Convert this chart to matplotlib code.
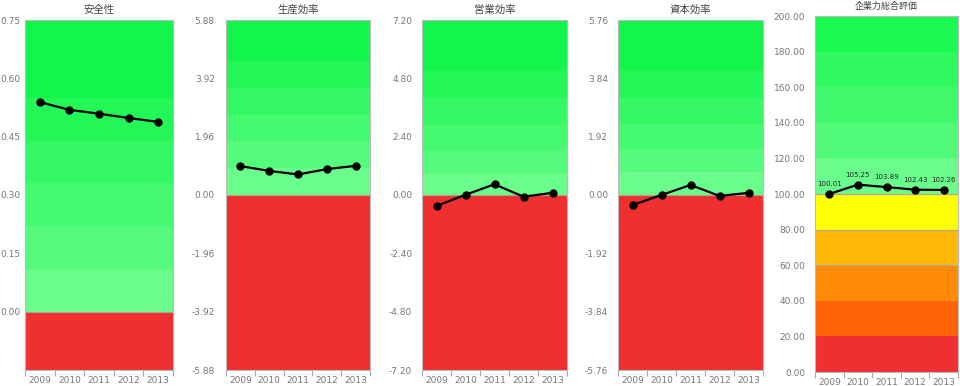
import matplotlib
matplotlib.use("Agg")
import matplotlib.pyplot as plt
import numpy as np

plt.rcParams['font.family'] = ['Noto Sans CJK JP', 'DejaVu Sans']
plt.rcParams['axes.unicode_minus'] = False

years = ["2009", "2010", "2011", "2012", "2013"]

titles = ["安全性", "生産効率", "営業効率", "資本効率", "企業力総合評価"]

safety = [0.539, 0.519, 0.509, 0.498, 0.488]
production = [0.97, 0.81, 0.69, 0.87, 0.98]
operating = [-0.45, 0.01, 0.44, -0.07, 0.09]
capital = [-0.33, 0.00, 0.33, -0.03, 0.07]
overall = [100.01, 105.25, 103.89, 102.43, 102.26]

# axis limits and tick steps
limits = [(-0.15, 0.75), (-5.88, 5.88), (-7.20, 7.20), (-5.76, 5.76), (0, 200)]
tick_steps = [0.15, 1.96, 2.40, 1.92, 20]

# green band boundaries for first four panels (above zero)
green_bounds = [
    [0, 0.11, 0.22, 0.33, 0.44, 0.55, 0.75],
    [0, 0.90, 1.80, 2.70, 3.60, 4.50, 5.88],
    [0, 0.90, 1.80, 2.90, 4.00, 5.10, 7.20],
    [0, 0.75, 1.50, 2.35, 3.20, 4.10, 5.76],
]
overall_bounds = [0, 20, 40, 60, 80, 100, 120, 140, 160, 180, 200]

greens6 = ["#6afd8b", "#55fb7c", "#45fa71", "#35f865", "#22f757", "#14f54b"]
greens5 = ["#6afd8b", "#52fa7a", "#42f96e", "#30f861", "#1afa50"]
red = "#f02f31"
warm = ["#f02f31", "#ff6406", "#ff8a05", "#ffb805", "#ffff05"]

series = [safety, production, operating, capital, overall]

W, H = 960, 386
fig = plt.figure(figsize=(W / 100, H / 100), dpi=100)

boxes = [(25, 173, 20, 370), (226, 370, 20, 370), (422, 567, 20, 370),
         (618, 763, 20, 370), (815, 958, 16, 372)]
pads = [3, 8, 7, 7, 7]

x = np.arange(len(years))

for i, (l, r, t, b) in enumerate(boxes):
    ax = fig.add_axes([l / W, 1 - b / H, (r - l) / W, (b - t) / H])
    lo, hi = limits[i]
    ax.set_xlim(-0.5, len(years) - 0.5)
    ax.set_ylim(lo, hi)
    if i < 4:
        ax.axhspan(lo, 0, color=red, lw=0)
        gb = green_bounds[i]
        for k in range(len(gb) - 1):
            ax.axhspan(gb[k], gb[k + 1], color=greens6[k], lw=0)
        ax.axhline(0, color="#b0a090", lw=0.8)
    else:
        for k in range(len(overall_bounds) - 1):
            c = warm[k] if k < 5 else greens5[k - 5]
            ax.axhspan(overall_bounds[k], overall_bounds[k + 1], color=c, lw=0)
        for v in (60, 80, 100):
            ax.axhline(v, color="#b0a898", lw=0.9)
    ax.plot(x, series[i], color="black", lw=1.6, marker="o", ms=5, zorder=5)
    if i == 4:
        for xi, v in zip(x, series[i]):
            ax.annotate(f"{v:.2f}", (xi, v), xytext=(0, 5), textcoords="offset points",
                        ha="center", va="bottom", fontsize=5, color="#222222",
                        family=["DejaVu Sans"])
    step = tick_steps[i]
    n = int(round((hi - lo) / step))
    ticks = [round(lo + step * k, 4) for k in range(n + 1)]
    if i == 0:
        ticks = ticks[1:]
    labels = []
    for v in ticks:
        s = f"{v:.2f}"
        if s == "-0.00":
            s = "0.00"
        labels.append(s)
    ax.set_yticks(ticks)
    ax.set_yticklabels(labels, fontsize=6.5, color="#777777", family=["DejaVu Sans"])
    ax.tick_params(axis="y", length=0, pad=pads[i])
    ax.set_xticks(x)
    ax.set_xticklabels(years, fontsize=6.5, color="#777777", family=["DejaVu Sans"])
    ax.set_xticks(np.arange(len(years) + 1) - 0.5, minor=True)
    ax.tick_params(axis="x", which="major", length=0, pad=4)
    ax.tick_params(axis="x", which="minor", length=4, color="#aaaaaa", width=0.8)
    for s in ax.spines.values():
        s.set_color("#bbbbbb")
        s.set_linewidth(0.8)
    ax.set_title(titles[i], fontsize=7.5 if i < 4 else 6.5, color="#444444", pad=5)

fig.savefig("out.png", dpi=100)
